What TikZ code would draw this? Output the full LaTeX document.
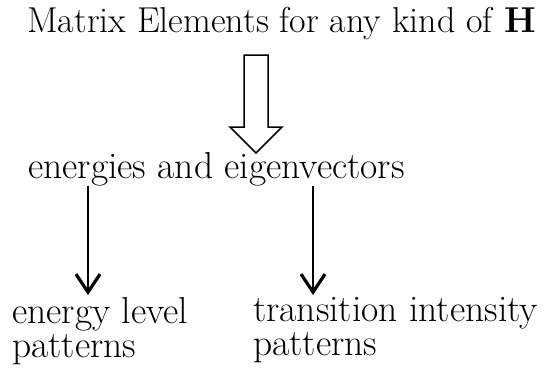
\documentclass[tikz,border=0pt]{standalone}
\usetikzlibrary{arrows.meta,positioning}
\begin{document}
\begin{tikzpicture}[x=1pt,y=1pt,
	every node/.style={inner sep=0pt,font=\fontsize{37.5}{34.5}\selectfont},
	label text/.style={anchor=base west},
	two lines/.style={anchor=north west,align=left},
	thin arrow/.style={line width=1.6pt,shorten >=2pt,-{Straight Barb[length=18pt,width=24pt,line width=3.2pt]}},
	hollow arrow/.style={line width=1.5pt,line join=miter}]
	\useasboundingbox (0,0) rectangle (545,-369);
	\node[label text,font=\fontsize{36}{34}\selectfont] (elements) at (27,-33) {Matrix Elements for any kind of \textbf{H}};
	\node[label text] (eigen) at (28,-178) {energies and eigenvectors};
	\node[two lines] (levels) at (12,-297) {energy level\\patterns};
	\node[two lines] (intens) at (253,-297) {transition intensity\\patterns};
	\coordinate (hollow) at (256,-55);
	\draw[hollow arrow] (hollow) ++(-12,0) -- ++(0,-72) -- ++(-14,0) -- ++(26,-26) -- ++(26,26) -- ++(-14,0) -- ++(0,72) -- cycle;
	\draw[thin arrow] ([xshift=60pt]eigen.south west) -- ([xshift=60pt]eigen.south west |- levels.north);
	\draw[thin arrow] ([xshift=285pt]eigen.south west) -- ([xshift=285pt]eigen.south west |- intens.north);
\end{tikzpicture}
\end{document}
